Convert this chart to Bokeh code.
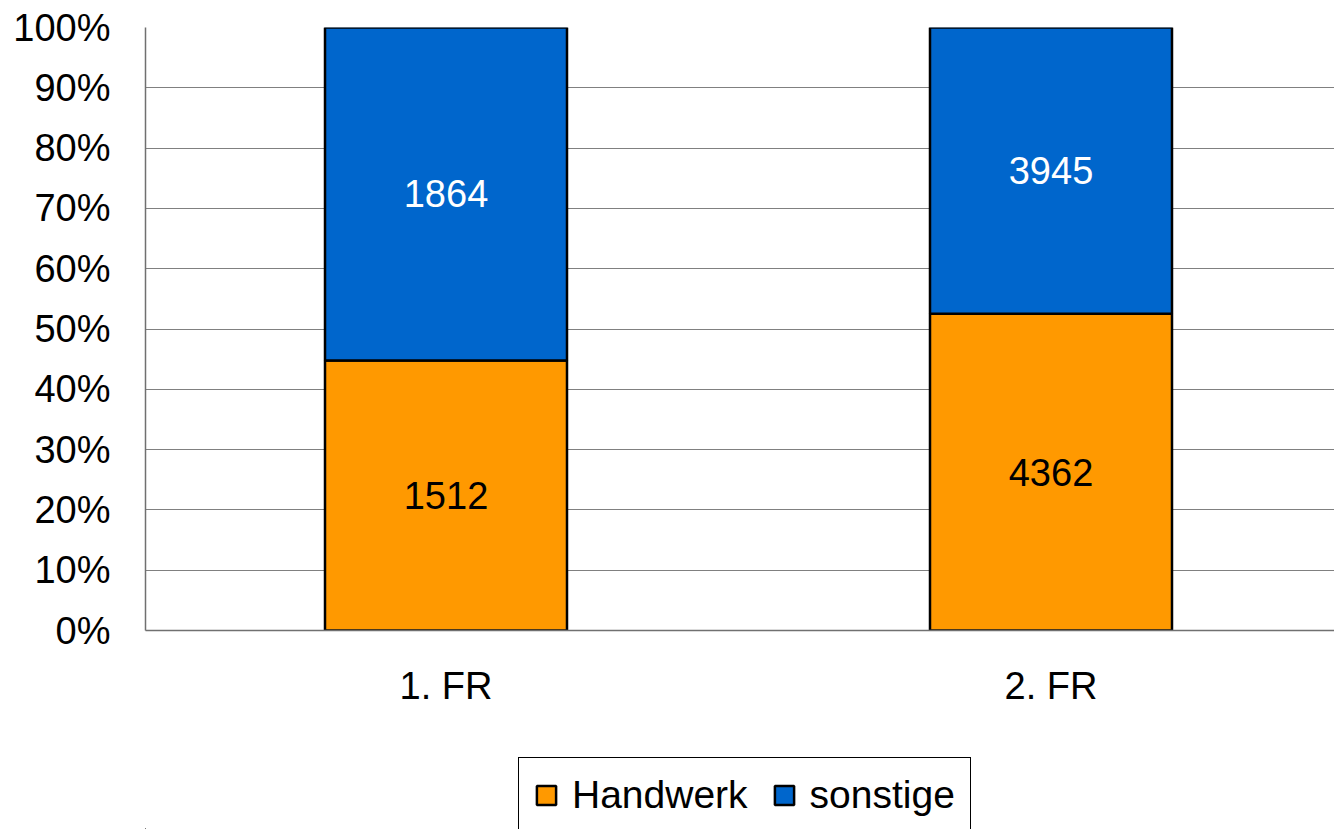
import numpy as np
from bokeh.plotting import figure
from bokeh.layouts import column
from bokeh.models import (ColumnDataSource, Range1d, FixedTicker, NumeralTickFormatter,
                          Legend, LegendItem)
from bokeh.core.properties import value
from bokeh.embed import file_html
from bokeh.resources import INLINE

categories = ["1. FR", "2. FR"]
handwerk = [1512, 4362]
sonstige = [1864, 3945]
series_names = ["Handwerk", "sonstige"]
y_ticks = [0, 0.1, 0.2, 0.3, 0.4, 0.5, 0.6, 0.7, 0.8, 0.9, 1.0]

FONT = "Liberation Sans"
ORANGE = "#FF9900"
BLUE = "#0066CC"
COLORS = [ORANGE, BLUE]

hw = np.array(handwerk, dtype=float)
so = np.array(sonstige, dtype=float)
tot = hw + so
hw_f = hw / tot
so_f = so / tot
x = np.arange(len(categories)) + 0.5

src = ColumnDataSource(dict(
    x=x, Handwerk=hw_f, sonstige=so_f,
    hw_mid=hw_f / 2, so_mid=hw_f + so_f / 2,
    hw_lab=[str(v) for v in handwerk], so_lab=[str(v) for v in sonstige],
))

H1 = 745
p = figure(width=1334, height=H1, output_backend="svg", toolbar_location=None,
           x_range=Range1d(0.0033, 1.9686), y_range=Range1d(0, 1))
p.min_border_left = 145
p.min_border_right = 0
p.min_border_top = 27
p.min_border_bottom = H1 - 630
p.outline_line_color = None
p.background_fill_color = "white"

rs = p.vbar_stack(series_names, x="x", width=0.4, source=src,
                  fill_color=COLORS, line_color="black", line_width=2.5)

p.text(x="x", y="hw_mid", text="hw_lab", source=src, text_align="center",
       text_baseline="middle", text_font=value(FONT), text_font_size="38px",
       text_color="black")
p.text(x="x", y="so_mid", text="so_lab", source=src, text_align="center",
       text_baseline="middle", text_font=value(FONT), text_font_size="38px",
       text_color="white")

# axes
p.yaxis.ticker = FixedTicker(ticks=y_ticks)
p.yaxis.formatter = NumeralTickFormatter(format="0%")
p.xaxis.ticker = FixedTicker(ticks=list(x))
p.xaxis.major_label_overrides = {float(xi): c for xi, c in zip(x, categories)}
for ax in (p.xaxis, p.yaxis):
    ax.major_tick_line_color = None
    ax.minor_tick_line_color = None
    ax.axis_line_color = "#707070"
    ax.axis_line_width = 1.5
    ax.major_label_text_font = FONT
    ax.major_label_text_font_size = "38px"
    ax.major_label_text_color = "black"
p.yaxis.major_label_standoff = 29
p.xaxis.major_label_standoff = 28

p.xgrid.grid_line_color = None
p.ygrid.ticker = FixedTicker(ticks=y_ticks[1:-1])
p.ygrid.grid_line_color = "#808080"
p.ygrid.grid_line_width = 1

# legend strip (swatch glyphs kept outside the visible range)
H2 = 829 - H1
lg = figure(width=1334, height=H2, output_backend="svg", toolbar_location=None,
            x_range=Range1d(0, 1), y_range=Range1d(0, 1),
            x_axis_type=None, y_axis_type=None)
lg.min_border = 0
lg.outline_line_color = None
lg.grid.visible = False
lrs = []
for c in COLORS:
    s = ColumnDataSource(dict(x=[-10.0], top=[-10.0]))
    lrs.append(lg.vbar(x="x", top="top", bottom=-11.0, width=0.1, source=s, fill_color=c,
                       line_color="black", line_width=2.5))

legend = Legend(items=[LegendItem(label=n, renderers=[r]) for n, r in zip(series_names, lrs)],
                orientation="horizontal", location=(373, -4))
legend.label_text_font = FONT
legend.label_text_font_size = "39px"
legend.label_text_color = "black"
legend.glyph_width = 24
legend.glyph_height = 24
legend.label_standoff = 14
legend.spacing = 24
legend.padding = 15
legend.margin = 0
legend.border_line_color = "black"
legend.border_line_alpha = 1.0
legend.border_line_width = 1.5
legend.background_fill_color = "white"
lg.add_layout(legend, "center")

layout = column(p, lg, spacing=0)
open("out.html", "w").write(file_html(layout, INLINE))
